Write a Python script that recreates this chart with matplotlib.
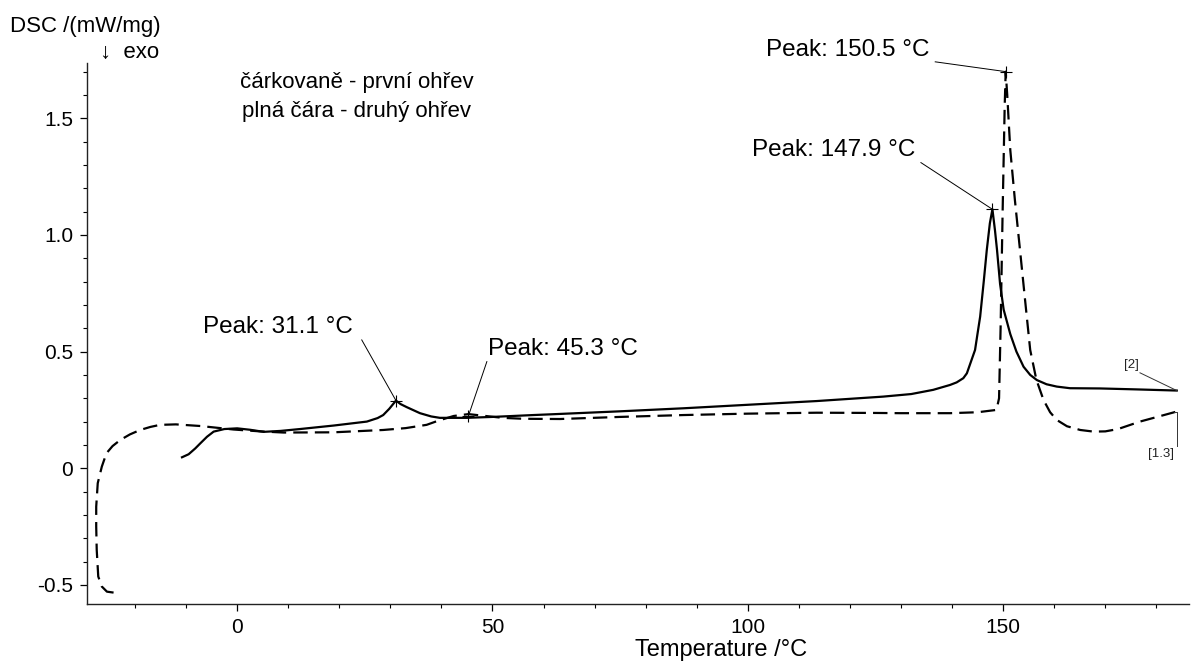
import matplotlib
matplotlib.use("Agg")
import matplotlib.pyplot as plt
from matplotlib.ticker import MultipleLocator, FixedLocator

plt.rcParams["font.family"] = ["Liberation Sans", "DejaVu Sans"]
plt.rcParams["axes.unicode_minus"] = False

# First heating (dashed)
temp_1 = [-24.2, -25.5, -26.5, -27.2, -27.5, -27.6, -27.6, -27.3, -26.5, -25.6,
          -24.4, -22.9, -21.0, -19.0, -17.0, -15.1, -12.0, -7.2, -0.7, 4.5,
          9.1, 18.9, 28.6, 33.0, 37.1, 39.4, 42.4, 45.3, 48.2, 52.0,
          56.0, 63.2, 75.0, 87.4, 100.0, 113.5, 125.0, 129.8, 139.6, 145.0,
          148.7, 149.2, 149.5, 149.9, 150.3, 150.5, 150.8, 151.4, 152.3, 153.3,
          154.3, 155.3, 156.5, 157.9, 159.2, 160.5, 162.5, 165.1, 167.7, 170.0,
          172.5, 176.8, 180.5, 184.0]
dsc_1 = [-0.533, -0.529, -0.507, -0.464, -0.35, -0.25, -0.165, -0.064, 0.007, 0.064,
         0.095, 0.121, 0.145, 0.164, 0.177, 0.186, 0.188, 0.181, 0.166, 0.158,
         0.153, 0.154, 0.164, 0.172, 0.186, 0.204, 0.224, 0.232, 0.225, 0.216,
         0.212, 0.211, 0.220, 0.228, 0.234, 0.238, 0.237, 0.236, 0.236, 0.240,
         0.250, 0.30, 0.60, 1.10, 1.55, 1.70, 1.60, 1.364, 1.15, 0.936,
         0.72, 0.507, 0.38, 0.293, 0.24, 0.207, 0.18, 0.164, 0.157, 0.158,
         0.168, 0.200, 0.222, 0.243]

# Second heating (solid)
temp_2 = [-10.8, -9.5, -8.2, -7.2, -5.9, -4.6, -2.5, 0.0, 2.5, 5.2,
          8.5, 12.3, 18.9, 25.4, 27.5, 28.6, 29.8, 31.1, 32.0, 33.2,
          35.8, 38.0, 39.7, 44.9, 50.0, 58.0, 61.3, 75.0, 87.4, 100.0,
          113.5, 126.5, 132.0, 136.3, 139.6, 140.9, 142.2, 142.9, 144.5, 145.0,
          145.5, 146.2, 146.8, 147.4, 147.9, 148.4, 148.8, 149.4, 150.1, 151.4,
          152.6, 154.0, 155.3, 156.6, 158.5, 160.5, 163.1, 169.0, 176.0, 184.0]
dsc_2 = [0.047, 0.06, 0.085, 0.107, 0.135, 0.157, 0.168, 0.171, 0.165, 0.156,
         0.16, 0.168, 0.183, 0.20, 0.215, 0.228, 0.255, 0.29, 0.275, 0.262,
         0.236, 0.222, 0.216, 0.216, 0.22, 0.228, 0.231, 0.244, 0.257, 0.272,
         0.288, 0.307, 0.318, 0.336, 0.357, 0.368, 0.386, 0.407, 0.507, 0.579,
         0.65, 0.80, 0.936, 1.05, 1.11, 1.02, 0.936, 0.79, 0.68, 0.575,
         0.50, 0.435, 0.40, 0.378, 0.36, 0.35, 0.343, 0.342, 0.338, 0.333]

# Peak annotations: (temperature, dsc, label, text x, text y, leader start x, leader start y, ha)
peaks = [
    (150.5, 1.70, "Peak: 150.5 °C", 103.6, 1.767, 136.7, 1.742, "left"),
    (147.9, 1.11, "Peak: 147.9 °C", 100.8, 1.34, 133.9, 1.31, "left"),
    (31.1, 0.29, "Peak: 31.1 °C", 22.7, 0.58, 24.4, 0.55, "right"),
    (45.3, 0.225, "Peak: 45.3 °C", 49.1, 0.486, 48.9, 0.457, "left"),
]

fig = plt.figure(figsize=(11.92, 6.61), dpi=100)
ax = fig.add_axes([0.073, 0.0862, 0.9245, 0.8185])

ax.plot(temp_1, dsc_1, color="black", lw=1.6, linestyle=(0, (6.5, 3.2)))
ax.plot(temp_2, dsc_2, color="black", lw=1.6)

for x, y, label, tx, ty, lx, ly, ha in peaks:
    ax.plot([lx, x], [ly, y], color="black", lw=0.7, clip_on=False)
    ax.plot(x, y, marker="+", color="black", ms=9, mew=0.8, clip_on=False)
    ax.text(tx, ty, label, fontsize=17.5, ha=ha, va="baseline", clip_on=False)

# curve tags at the right end
ax.plot([176.8, temp_2[-1]], [0.409, dsc_2[-1]], color="#333333", lw=0.7)
ax.text(175.1, 0.443, "[2]", fontsize=9.5, color="#222222", ha="center", va="center")
ax.plot([temp_1[-1] - 0.6, temp_1[-1], temp_1[-1]], [dsc_1[-1], dsc_1[-1], 0.096],
        color="#333333", lw=0.7)
ax.text(181.0, 0.061, "[1.3]", fontsize=9.5, color="#222222", ha="center", va="center")

ax.text(0.6, 1.63, "čárkovaně - první ohřev", fontsize=16, va="baseline")
ax.text(1.0, 1.505, "plná čára - druhý ohřev", fontsize=16, va="baseline")

ax.set_xlim(-29.4, 186.4)
ax.set_ylim(-0.582, 1.737)

ax.xaxis.set_major_locator(FixedLocator([0, 50, 100, 150]))
ax.xaxis.set_minor_locator(MultipleLocator(10))
ax.set_xticklabels(["0", "50", "100", "150"])
ax.yaxis.set_major_locator(FixedLocator([-0.5, 0, 0.5, 1.0, 1.5]))
ax.yaxis.set_minor_locator(MultipleLocator(0.1))
ax.set_yticklabels(["-0.5", "0", "0.5", "1.0", "1.5"])

ax.tick_params(which="major", direction="out", length=5, width=0.9, labelsize=15, pad=5)
ax.tick_params(which="minor", direction="out", length=3, width=0.8)
for side in ["top", "right"]:
    ax.spines[side].set_visible(False)
for side in ["left", "bottom"]:
    ax.spines[side].set_linewidth(1.0)
    ax.spines[side].set_color("#222222")

fig.text(10 / 1192, 1 - 32 / 661, "DSC /(mW/mg)", fontsize=16, va="baseline")
fig.text(100 / 1192, 1 - 58 / 661, "↓  exo", fontsize=16, va="baseline")
fig.text(721 / 1192, 1 - 656 / 661, "Temperature /°C", fontsize=17, ha="center", va="baseline")

fig.savefig("out.png", dpi=100, facecolor="white")
